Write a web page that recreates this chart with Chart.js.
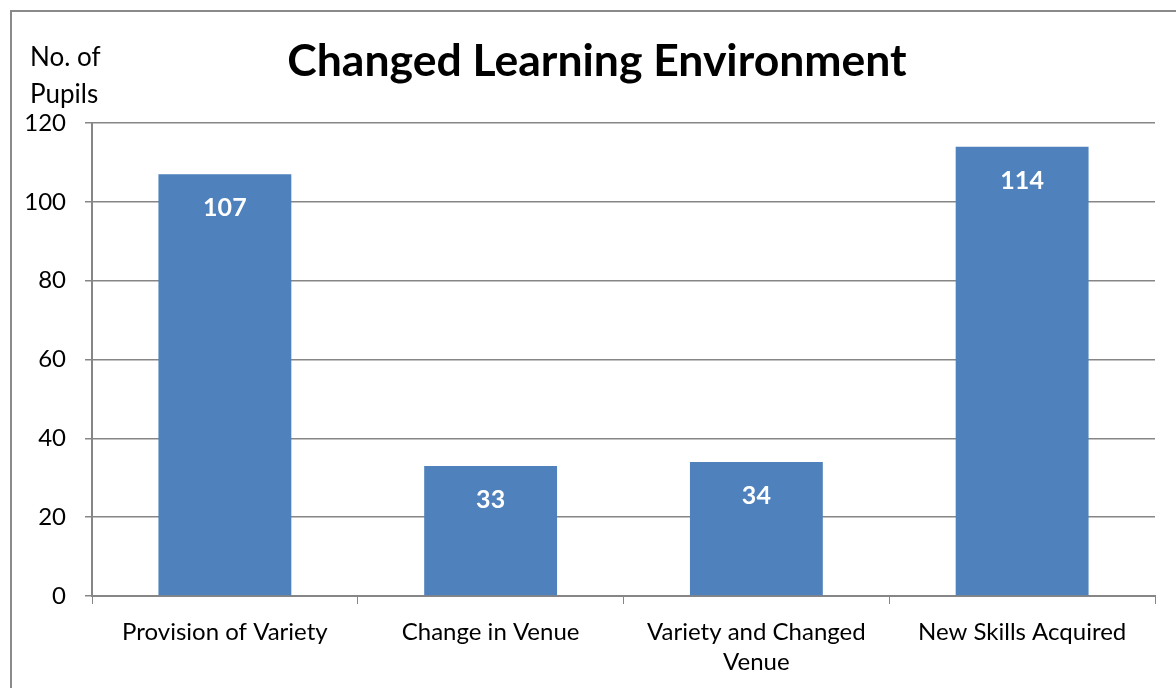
<!DOCTYPE html>
<html><head><meta charset="utf-8">
<script src="https://cdn.jsdelivr.net/npm/chart.js@4/dist/chart.umd.min.js"></script>
<style>
html,body{margin:0;padding:0;background:#fff;overflow:hidden;width:1176px;height:688px;}
#frame{position:absolute;left:10px;top:10px;width:1200px;height:720px;border:2px solid #8a8a8a;box-sizing:border-box;}
#wrap{position:absolute;left:0;top:0;width:1176px;height:688px;}
</style></head>
<body>
<div id="frame"></div>
<div id="wrap"><canvas id="c" width="1176" height="688"></canvas></div>
<script>
const categories = [["Provision of Variety"], ["Change in Venue"], ["Variety and Changed", "Venue"], ["New Skills Acquired"]];
const pupils = [107, 33, 34, 114];
const yTicks = [0, 20, 40, 60, 80, 100, 120];
const titleText = "Changed Learning Environment";
const yTitle = ["No. of", "Pupils"];

const FONT = "Lato, 'Open Sans', sans-serif";

const labelPlugin = {
  id: 'barLabels',
  afterDatasetsDraw(chart) {
    const ctx = chart.ctx;
    const meta = chart.getDatasetMeta(0);
    ctx.save();
    ctx.fillStyle = '#ffffff';
    ctx.font = "bold 25px " + FONT;
    ctx.textAlign = 'center';
    ctx.textBaseline = 'middle';
    meta.data.forEach((bar, i) => {
      ctx.fillText(String(pupils[i]), bar.x, bar.y + 34);
    });
    ctx.restore();
  }
};
const textPlugin = {
  id: 'texts',
  afterDraw(chart) {
    const ctx = chart.ctx;
    ctx.save();
    ctx.fillStyle = '#000';
    ctx.font = "26px " + FONT;
    ctx.textAlign = 'left';
    ctx.textBaseline = 'middle';
    ctx.fillText(yTitle[0], 30, 58);
    ctx.fillText(yTitle[1], 30, 95);
    ctx.font = "bold 44.5px " + FONT;
    ctx.textAlign = 'center';
    ctx.fillText(titleText, 597, 62);
    ctx.restore();
  }
};

new Chart(document.getElementById('c'), {
  type: 'bar',
  data: {
    labels: categories,
    datasets: [{
      data: pupils,
      backgroundColor: '#4F81BD',
      borderWidth: 0,
      barPercentage: 0.5,
      categoryPercentage: 1.0
    }]
  },
  options: {
    responsive: false,
    animation: false,
    devicePixelRatio: 1,
    layout: { padding: { left: 0, right: 21, top: 123, bottom: 0 } },
    plugins: {
      legend: { display: false },
      tooltip: { enabled: false },
      title: { display: false }
    },
    scales: {
      x: {
        grid: { display: true, drawOnChartArea: false, color: '#868686', tickLength: 8, offset: true },
        border: { color: '#868686', width: 2 },
        ticks: { color: '#000', font: { family: FONT, size: 24, lineHeight: 1.25 }, padding: 13, maxRotation: 0, autoSkip: false },
        afterFit(s) { s.height = 92; }
      },
      y: {
        min: 0, max: 120,
        afterBuildTicks(s) { s.ticks = yTicks.map(v => ({ value: v })); },
        grid: { color: '#868686', lineWidth: 1.5, tickLength: 7 },
        border: { color: '#868686', width: 2 },
        ticks: { color: '#000', font: { family: FONT, size: 24 }, padding: 19 },
        afterFit(s) { s.width = 92; }
      }
    }
  },
  plugins: [labelPlugin, textPlugin]
});
</script>
</body></html>
